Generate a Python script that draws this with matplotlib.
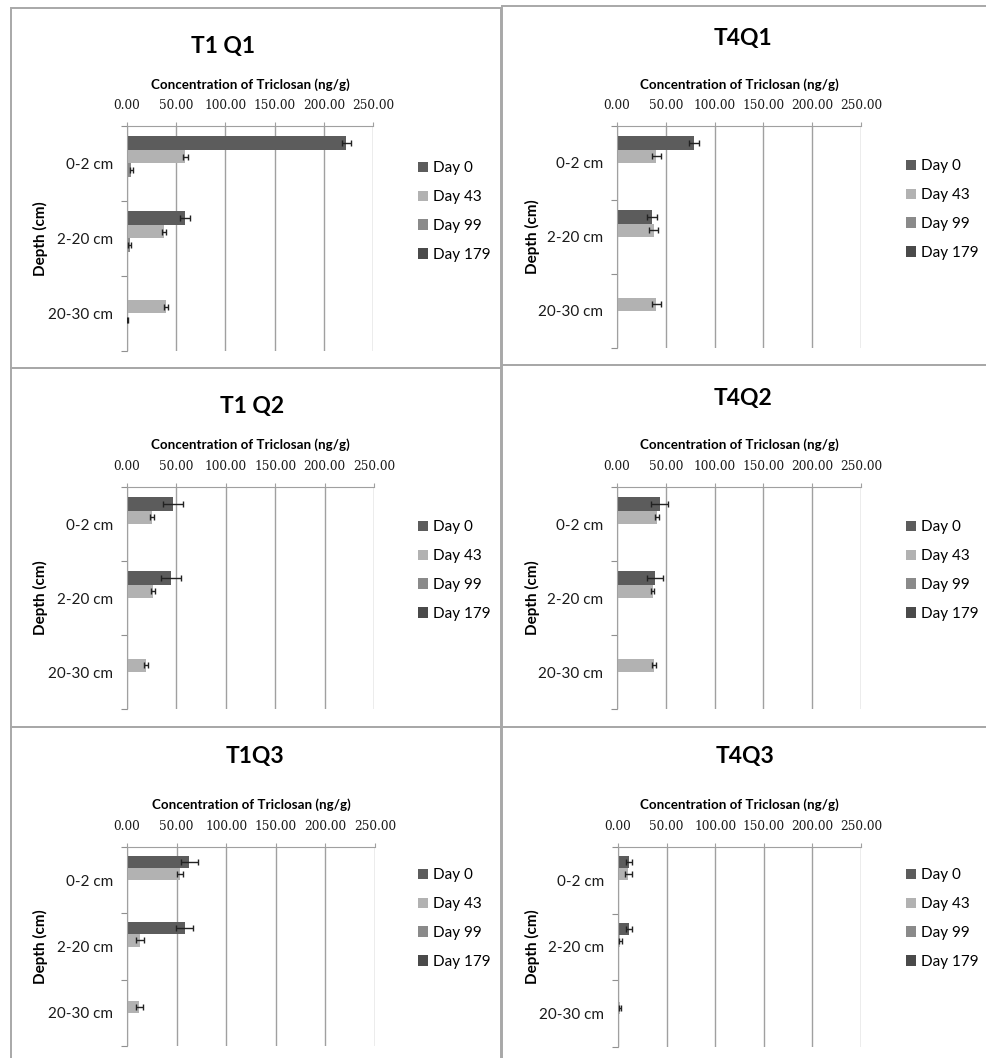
import numpy as np
import matplotlib
matplotlib.use("Agg")
import matplotlib.pyplot as plt
from matplotlib.patches import Rectangle

W, H = 987, 1058

depths = ["0-2 cm", "2-20 cm", "20-30 cm"]
days = ["Day 0", "Day 43", "Day 99", "Day 179"]
day_colors = ["#5c5c5c", "#b2b2b2", "#8a8a8a", "#4a4a4a"]
xticks = [0, 50, 100, 150, 200, 250]
nan = np.nan

titles = ["T1 Q1", "T4Q1", "T1 Q2", "T4Q2", "T1Q3", "T4Q3"]

# values per day, rows = depth (0-2, 2-20, 20-30)
t1q1_vals = [[223, 59, nan], [59, 38, 40], [4.5, 3, 0.7], [nan, nan, nan]]
t1q1_errs = [[5, 5.5, nan], [2.5, 2, 2], [1.5, 1.5, 0.5], [nan, nan, nan]]

t4q1_vals = [[79, 36, nan], [40.4, 37.6, 40.4], [1, 1, 1], [nan, nan, nan]]
t4q1_errs = [[5.5, 5, nan], [4.6, 4.8, 4.8], [nan, nan, nan], [nan, nan, nan]]

t1q2_vals = [[46.6, 44.6, nan], [25, 26, 19], [nan, nan, nan], [nan, nan, nan]]
t1q2_errs = [[10, 10, nan], [2, 2, 2], [nan, nan, nan], [nan, nan, nan]]

t4q2_vals = [[44, 39, nan], [41, 36.4, 38], [nan, nan, nan], [nan, nan, nan]]
t4q2_errs = [[8.7, 8.5, nan], [2, 2, 2], [nan, nan, nan], [nan, nan, nan]]

t1q3_vals = [[63, 58, nan], [53.5, 13, 12.5], [nan, nan, nan], [nan, nan, nan]]
t1q3_errs = [[8.6, 8.4, nan], [3, 3.7, 3.7], [nan, nan, nan], [nan, nan, nan]]

t4q3_vals = [[11.3, 11.3, nan], [10.6, 2.4, 2], [nan, nan, nan], [nan, nan, nan]]
t4q3_errs = [[3.4, 3, nan], [3.6, 1.7, 1.2], [nan, nan, nan], [nan, nan, nan]]

all_vals = [t1q1_vals, t4q1_vals, t1q2_vals, t4q2_vals, t1q3_vals, t4q3_vals]
all_errs = [t1q1_errs, t4q1_errs, t1q2_errs, t4q2_errs, t1q3_errs, t4q3_errs]

# layout in pixels: border box, plot box, title pos, xlabel y, ylabel x, legend pos
layout = [
    dict(box=(11, 8, 501, 368), plot=(127, 126, 373, 351), title=(223, 47), xlab=85, ylab=40, leg=(418, 161)),
    dict(box=(502, 6, 990, 365), plot=(617, 126, 861, 348), title=(743, 38), xlab=85, ylab=532, leg=(906, 159)),
    dict(box=(11, 368, 501, 727), plot=(127, 487, 374, 709), title=(252, 407), xlab=445, ylab=40, leg=(418, 520)),
    dict(box=(502, 365, 990, 727), plot=(617, 487, 861, 709), title=(743, 398), xlab=445, ylab=532, leg=(906, 520)),
    dict(box=(11, 727, 501, 1062), plot=(127, 847, 375, 1046), title=(255, 757), xlab=805, ylab=40, leg=(418, 868)),
    dict(box=(502, 727, 990, 1062), plot=(618, 847, 861, 1047), title=(745, 757), xlab=805, ylab=532, leg=(906, 868)),
]

sans = ["Lato", "DejaVu Sans"]
serif = ["DejaVu Serif"]

fig = plt.figure(figsize=(W / 100, H / 100), dpi=100)
fig.patch.set_facecolor("white")

bh = 1 / 5.5
ypos = np.arange(len(depths))

for k in range(6):
    L = layout[k]
    bx0, by0, bx1, by1 = L["box"]
    fig.add_artist(Rectangle((bx0 / W, 1 - by1 / H), (bx1 - bx0) / W, (by1 - by0) / H,
                             transform=fig.transFigure, fill=False, ec="#a8a8a8", lw=1.4))
    x0, y0, x1, y1 = L["plot"]
    ax = fig.add_axes([x0 / W, 1 - y1 / H, (x1 - x0) / W, (y1 - y0) / H])
    handles = []
    for d in range(4):
        vals = np.array(all_vals[k][d], dtype=float)
        errs = np.array(all_errs[k][d], dtype=float)
        yy = ypos + (d - 1.5) * bh
        bars = ax.barh(yy, np.nan_to_num(vals), height=bh, color=day_colors[d], edgecolor="none", zorder=2)
        handles.append(bars)
        m = ~np.isnan(errs) & ~np.isnan(vals)
        if m.any():
            ax.errorbar(vals[m], yy[m], xerr=errs[m], fmt="none", ecolor="#222222",
                        elinewidth=1, capsize=2.5, capthick=1, zorder=3)
    ax.set_xlim(0, 250)
    ax.set_ylim(2.5, -0.5)
    ax.xaxis.tick_top()
    ax.set_xticks(xticks)
    ax.set_xticklabels(["%.2f" % t for t in xticks], family=serif, fontsize=8.7, color="#1a1a1a")
    ax.tick_params(axis="x", direction="out", length=3, pad=7, color="#a0a0a0")
    ax.set_yticks([-0.5, 0.5, 1.5, 2.5])
    ax.set_yticklabels([])
    ax.set_yticks(ypos, minor=True)
    ax.set_yticklabels(depths, minor=True, family=sans, fontsize=11, color="#1a1a1a")
    ax.tick_params(axis="y", which="major", direction="out", length=4, color="#909090")
    ax.tick_params(axis="y", which="minor", length=0, pad=10)
    ax.xaxis.grid(True, color="#a0a0a0", lw=1)
    ax.set_axisbelow(True)
    for s in ["right", "bottom"]:
        ax.spines[s].set_visible(False)
    for s in ["top", "left"]:
        ax.spines[s].set_color("#a0a0a0")
    ax.set_facecolor("none")

    fig.text((x0 + x1) / 2 / W, 1 - L["xlab"] / H, "Concentration of Triclosan (ng/g)",
             ha="center", va="center", fontsize=9.6, fontweight="bold", family=sans)
    fig.text(L["ylab"] / W, 1 - (y0 + y1) / 2 / H, "Depth (cm)", rotation=90,
             ha="center", va="center", fontsize=11, fontweight="bold", family=sans)
    tx, ty = L["title"]
    fig.text(tx / W, 1 - ty / H, titles[k], ha="center", va="center",
             fontsize=16.5, fontweight="bold", family=sans)
    lx, ly = L["leg"]
    ax.legend(handles, days, loc="upper left", bbox_to_anchor=(lx / W, 1 - ly / H),
              bbox_transform=fig.transFigure, frameon=False, prop={"family": sans, "size": 11},
              handlelength=0.65, handleheight=0.65, handletextpad=0.3, labelspacing=0.98,
              borderaxespad=0, borderpad=0)

fig.savefig("out.png", dpi=100, facecolor="white")
